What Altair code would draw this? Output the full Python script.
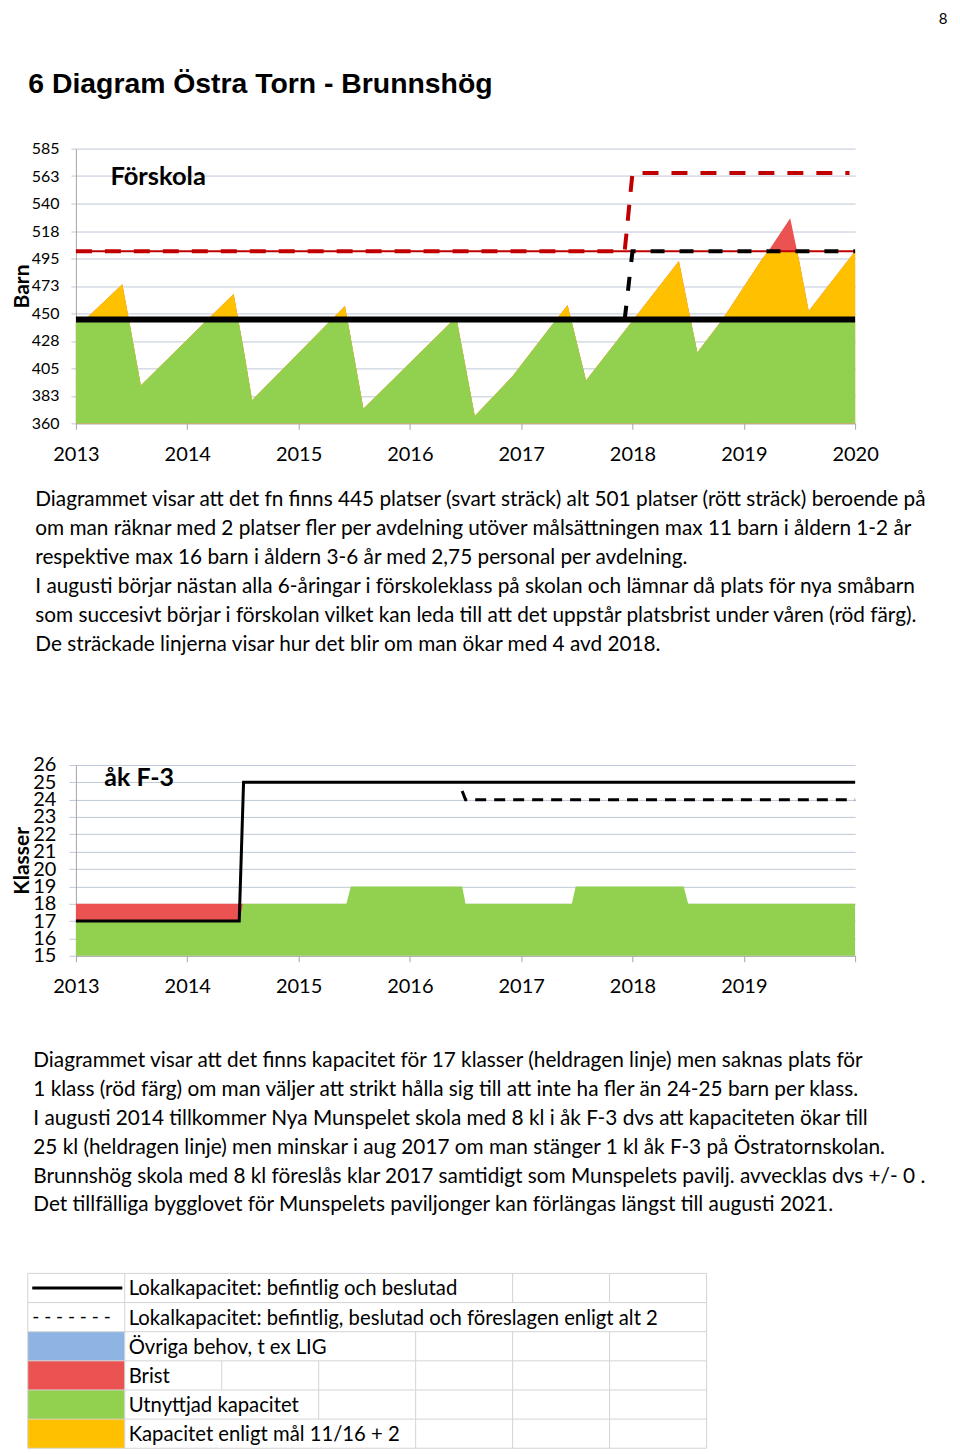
import altair as alt
import pandas as pd

FONT = "Lato"
HEAD_FONT = "Liberation Sans"

# ---------------- texts ----------------
page_number = "8"
heading = "6 Diagram Östra Torn - Brunnshög"
fsk_title = "Förskola"
fsk_axis_title = "Barn"
grund_title = "åk F-3"
grund_axis_title = "Klasser"

para1 = [
    "Diagrammet visar att det fn finns 445 platser (svart sträck) alt 501 platser (rött sträck) beroende på",
    "om man räknar med 2 platser fler per avdelning utöver målsättningen max 11 barn i åldern 1-2 år",
    "respektive max 16 barn i åldern 3-6 år med 2,75 personal per avdelning.",
    "I augusti börjar nästan alla 6-åringar i förskoleklass på skolan och lämnar då plats för nya småbarn",
    "som succesivt börjar i förskolan vilket kan leda till att det uppstår platsbrist under våren (röd färg).",
    "De sträckade linjerna visar hur det blir om man ökar med 4 avd 2018.",
]
para2 = [
    "Diagrammet visar att det finns kapacitet för 17 klasser (heldragen linje) men saknas plats för",
    "1 klass (röd färg) om man väljer att strikt hålla sig till att inte ha fler än 24-25 barn per klass.",
    "I augusti 2014 tillkommer Nya Munspelet skola med 8 kl i åk F-3 dvs att kapaciteten ökar till",
    "25 kl (heldragen linje) men minskar i aug 2017 om man stänger 1 kl åk F-3 på Östratornskolan.",
    "Brunnshög skola med 8 kl föreslås klar 2017 samtidigt som Munspelets pavilj. avvecklas dvs +/- 0 .",
    "Det tillfälliga bygglovet för Munspelets paviljonger kan förlängas längst till augusti 2021.",
]

legend_labels = [
    "Lokalkapacitet: befintlig och beslutad",
    "Lokalkapacitet: befintlig, beslutad och föreslagen enligt alt 2",
    "Övriga behov, t ex LIG",
    "Brist",
    "Utnyttjad kapacitet",
    "Kapacitet enligt mål 11/16 + 2",
]
legend_dash_text = "- - - - - - -"
legend_inner_borders = [[5, 6], [], [4, 5, 6], [2, 3, 4, 5, 6], [3, 4, 5, 6], [4, 5, 6]]

# ---------------- colours ----------------
RED = "#EB5252"
ORANGE = "#FFC000"
GREEN = "#92D050"
BLUE = "#8DB4E2"
DARK_RED = "#C00000"
GRID = "#BFC8D7"
AXIS = "#A6A6A6"
TABLE = "#D4D4D4"
legend_swatch_colors = [None, None, BLUE, RED, GREEN, ORANGE]

# ---------------- data: Förskola ----------------
year_ticks = [2013, 2014, 2015, 2016, 2017, 2018, 2019, 2020]
fsk_yticks = [360, 382.5, 405, 427.5, 450, 472.5, 495, 517.5, 540, 562.5, 585]

fsk_years = [2013.0, 2013.083, 2013.417, 2013.476, 2013.5, 2013.583,
             2014.183, 2014.417, 2014.458, 2014.5, 2014.583,
             2015.298, 2015.417, 2015.439, 2015.583,
             2016.395, 2016.417, 2016.421, 2016.583, 2016.917,
             2017.315, 2017.417, 2017.449, 2017.583,
             2018.009, 2018.417, 2018.5, 2018.522, 2018.583,
             2018.808, 2019.167, 2019.22, 2019.417, 2019.479, 2019.5, 2019.583, 2020.0]
fsk_demand = [442, 445, 474, 445, 433, 391,
              445, 466, 445, 424, 379,
              445, 456, 445, 372,
              445, 447, 445, 366, 398,
              445, 457, 445, 395,
              445, 493, 455, 445, 418,
              445, 495, 501, 528, 501, 492, 452, 501]
fsk_cap_now = 445
fsk_cap_goal = 501

cap_line_years = [2013.0, 2020.0]
cap_line_vals = [445, 445]
goal_line_vals = [501, 501]
alt_red_years = [2013.0, 2017.93, 2018.0, 2019.95]
alt_red_vals = [501, 501, 565, 565]
alt_black_years = [2017.93, 2018.0, 2020.0]
alt_black_vals = [445, 501, 501]
fsk_label_pos = (2013.31, 562)

# ---------------- data: åk F-3 ----------------
klass_yticks = list(range(15, 27))
klass_green_years = [2013.0, 2014.47, 2014.5, 2015.43, 2015.47, 2016.47, 2016.5,
                     2017.455, 2017.49, 2018.46, 2018.5, 2020.0]
klass_green_vals = [17, 17, 18, 18, 19, 19, 18, 18, 19, 19, 18, 18]
klass_brist_years = [2013.0, 2014.5]
klass_brist_top = [18, 18]
klass_brist_bottom = [17, 17]
klass_cap_years = [2013.0, 2014.467, 2014.506, 2020.0]
klass_cap_vals = [17, 17, 25, 25]
klass_alt_years = [2016.47, 2016.5, 2020.0]
klass_alt_vals = [24.5, 24, 24]
klass_label_pos = (2013.255, 25.25)

W = 780
PARA_SIZE = 20.8


def xenc(field, domain_max_label=True):
    expr = "datum.label" if domain_max_label else "datum.value >= 2020 ? '' : datum.label"
    return alt.X(f"{field}:Q",
                 scale=alt.Scale(domain=[2013, 2020], nice=False, zero=False),
                 axis=alt.Axis(values=year_ticks, format="d", title=None, grid=False,
                               labelFont=FONT, labelFontSize=20, labelColor="black",
                               labelPadding=15, tickSize=6, tickColor=AXIS,
                               domainColor=AXIS, labelExpr=expr, labelFlush=False,
                               labelOverlap=False))


def yfsk(field):
    return alt.Y(f"{field}:Q",
                 scale=alt.Scale(domain=[360, 585], nice=False, zero=False),
                 axis=alt.Axis(values=fsk_yticks, format=".0f", title=fsk_axis_title,
                               titleFont=FONT, titleFontSize=21, titleFontWeight="bold",
                               titleColor="black", titleAngle=270, titleBaseline="bottom",
                               titleAlign="center", titleX=-43,
                               labelFont=FONT, labelFontSize=16, labelColor="black",
                               labelPadding=12, tickSize=5, tickColor=GRID,
                               domainColor=AXIS, grid=True, gridColor=GRID,
                               labelOverlap=False))


def yklass(field):
    return alt.Y(f"{field}:Q",
                 scale=alt.Scale(domain=[15, 26], nice=False, zero=False),
                 axis=alt.Axis(values=klass_yticks, format="d", title=grund_axis_title,
                               titleFont=FONT, titleFontSize=21, titleFontWeight="bold",
                               titleColor="black", titleAngle=270, titleBaseline="bottom",
                               titleAlign="center", titleX=-43,
                               labelFont=FONT, labelFontSize=20, labelColor="black",
                               labelPadding=13, tickSize=7, tickColor=GRID,
                               domainColor=AXIS, grid=True, gridColor=GRID,
                               labelOverlap=False, labelFlush=False))


one = pd.DataFrame({"k": [0]})

# ================= Chart A: Förskola =================
df_f = pd.DataFrame({"year": fsk_years, "d": fsk_demand})

a_red = alt.Chart(df_f).mark_area(color=RED, strokeWidth=0).encode(
    x=xenc("year"), y=yfsk("d"), y2=alt.datum(360))
a_orange = alt.Chart(df_f).transform_calculate(
    o=f"min(datum.d, {fsk_cap_goal})").mark_area(color=ORANGE, strokeWidth=0).encode(
    x=xenc("year"), y=yfsk("o"), y2=alt.datum(360))
a_green = alt.Chart(df_f).transform_calculate(
    g=f"min(datum.d, {fsk_cap_now})").mark_area(color=GREEN, strokeWidth=0).encode(
    x=xenc("year"), y=yfsk("g"), y2=alt.datum(360))

a_goal = alt.Chart(pd.DataFrame({"year": cap_line_years, "v": goal_line_vals})).mark_line(
    color=DARK_RED, strokeWidth=2).encode(x=xenc("year"), y=yfsk("v"))
a_alt_red = alt.Chart(pd.DataFrame({"year": alt_red_years, "v": alt_red_vals})).mark_line(
    color=DARK_RED, strokeWidth=4, strokeDash=[16, 13], strokeCap="butt").encode(
    x=xenc("year"), y=yfsk("v"))
a_cap = alt.Chart(pd.DataFrame({"year": cap_line_years, "v": cap_line_vals})).mark_line(
    color="black", strokeWidth=6).encode(x=xenc("year"), y=yfsk("v"))
a_alt_black = alt.Chart(pd.DataFrame({"year": alt_black_years, "v": alt_black_vals})).mark_line(
    color="black", strokeWidth=4, strokeDash=[14, 15], strokeCap="butt").encode(
    x=xenc("year"), y=yfsk("v"))

a_label = alt.Chart(pd.DataFrame({"year": [fsk_label_pos[0]], "v": [fsk_label_pos[1]],
                                  "t": [fsk_title]})).mark_text(
    align="left", baseline="middle", font=FONT, fontSize=25.5, fontWeight="bold",
    color="black").encode(x=xenc("year"), y=yfsk("v"), text="t:N")

a_page = alt.Chart(one).mark_text(align="center", baseline="top", font=FONT,
                                  fontSize=15, color="black").encode(
    x=alt.value(868), y=alt.value(-137), text=alt.value(page_number))
a_head = alt.Chart(one).mark_text(align="left", baseline="alphabetic", font=HEAD_FONT,
                                  fontSize=28.4, fontWeight="bold", color="black").encode(
    x=alt.value(-47.7), y=alt.value(-55.3), text=alt.value(heading))
a_para = alt.Chart(one).mark_text(align="left", baseline="alphabetic", font=FONT,
                                  fontSize=PARA_SIZE, lineHeight=29, color="black").encode(
    x=alt.value(-40.7), y=alt.value(358.2), text=alt.value(para1))

chart_a = alt.layer(a_red, a_orange, a_green, a_goal, a_alt_red, a_cap, a_alt_black,
                    a_label, a_page, a_head, a_para).properties(width=W, height=275)

# ================= Chart B: åk F-3 =================
b_red = alt.Chart(pd.DataFrame({"year": klass_brist_years, "top": klass_brist_top,
                                "bot": klass_brist_bottom})).mark_area(
    color=RED, strokeWidth=0).encode(x=xenc("year", False), y=yklass("top"),
                                     y2=alt.Y2("bot:Q"))
b_green = alt.Chart(pd.DataFrame({"year": klass_green_years, "v": klass_green_vals})).mark_area(
    color=GREEN, strokeWidth=0).encode(x=xenc("year", False), y=yklass("v"), y2=alt.datum(15))
b_cap = alt.Chart(pd.DataFrame({"year": klass_cap_years, "v": klass_cap_vals})).mark_line(
    color="black", strokeWidth=3).encode(x=xenc("year", False), y=yklass("v"))
b_alt = alt.Chart(pd.DataFrame({"year": klass_alt_years, "v": klass_alt_vals})).mark_line(
    color="black", strokeWidth=3, strokeDash=[11, 8], strokeCap="butt").encode(
    x=xenc("year", False), y=yklass("v"))
b_label = alt.Chart(pd.DataFrame({"year": [klass_label_pos[0]], "v": [klass_label_pos[1]],
                                  "t": [grund_title]})).mark_text(
    align="left", baseline="middle", font=FONT, fontSize=25, fontWeight="bold",
    color="black").encode(x=xenc("year", False), y=yklass("v"), text="t:N")
b_para = alt.Chart(one).mark_text(align="left", baseline="alphabetic", font=FONT,
                                  fontSize=PARA_SIZE, lineHeight=29, color="black").encode(
    x=alt.value(-42.7), y=alt.value(302), text=alt.value(para2))

chart_b = alt.layer(b_red, b_green, b_cap, b_alt, b_label, b_para).properties(width=W, height=191)

# ================= Chart C: legend table =================
ncols = 7
nrows = len(legend_labels)
xs = alt.Scale(domain=[0, ncols], range=[-48.2, 631.3])
ys = alt.Scale(domain=[0, nrows], range=[0, 175])

sw_rows = [i for i, c in enumerate(legend_swatch_colors) if c]
df_sw = pd.DataFrame({"x": [0] * len(sw_rows), "x2": [1] * len(sw_rows),
                      "y": sw_rows, "y2": [r + 1 for r in sw_rows],
                      "c": [legend_swatch_colors[r] for r in sw_rows]})
c_sw = alt.Chart(df_sw).mark_rect(strokeWidth=0).encode(
    x=alt.X("x:Q", scale=xs, axis=None), x2="x2:Q",
    y=alt.Y("y:Q", scale=ys, axis=None), y2="y2:Q",
    color=alt.Color("c:N", scale=None))

grid_rows = []
for r in range(nrows + 1):
    grid_rows.append({"x": 0, "x2": ncols, "y": r, "y2": r})
for r in range(nrows):
    for c in [0, 1, ncols] + legend_inner_borders[r]:
        grid_rows.append({"x": c, "x2": c, "y": r, "y2": r + 1})
c_grid = alt.Chart(pd.DataFrame(grid_rows)).mark_rule(color=TABLE, strokeWidth=1).encode(
    x=alt.X("x:Q", scale=xs, axis=None), x2="x2:Q",
    y=alt.Y("y:Q", scale=ys, axis=None), y2="y2:Q")

c_line = alt.Chart(pd.DataFrame({"x": [0.046], "x2": [0.975], "y": [0.5]})).mark_rule(
    color="black", strokeWidth=3).encode(
    x=alt.X("x:Q", scale=xs, axis=None), x2="x2:Q", y=alt.Y("y:Q", scale=ys, axis=None))
c_dash = alt.Chart(pd.DataFrame({"x": [0.046], "y": [1.5], "t": [legend_dash_text]})).mark_text(
    align="left", baseline="middle", font=FONT, fontSize=19, color="black").encode(
    x=alt.X("x:Q", scale=xs, axis=None), y=alt.Y("y:Q", scale=ys, axis=None), text="t:N")
c_text = alt.Chart(pd.DataFrame({"x": [1.04] * nrows, "y": [r + 0.55 for r in range(nrows)],
                                 "t": legend_labels})).mark_text(
    align="left", baseline="middle", font=FONT, fontSize=20.3, color="black").encode(
    x=alt.X("x:Q", scale=xs, axis=None), y=alt.Y("y:Q", scale=ys, axis=None), text="t:N")

chart_c = alt.layer(c_sw, c_grid, c_line, c_dash, c_text).properties(width=631, height=175)

chart = alt.vconcat(
    chart_a,
    alt.vconcat(chart_b, chart_c, spacing=57),
    spacing=100,
).properties(padding={"left": 4, "top": 3, "right": 4, "bottom": 0},
             background="white").configure_view(stroke=None)

chart.save("out.html", embed_options={"renderer": "svg", "actions": False})
